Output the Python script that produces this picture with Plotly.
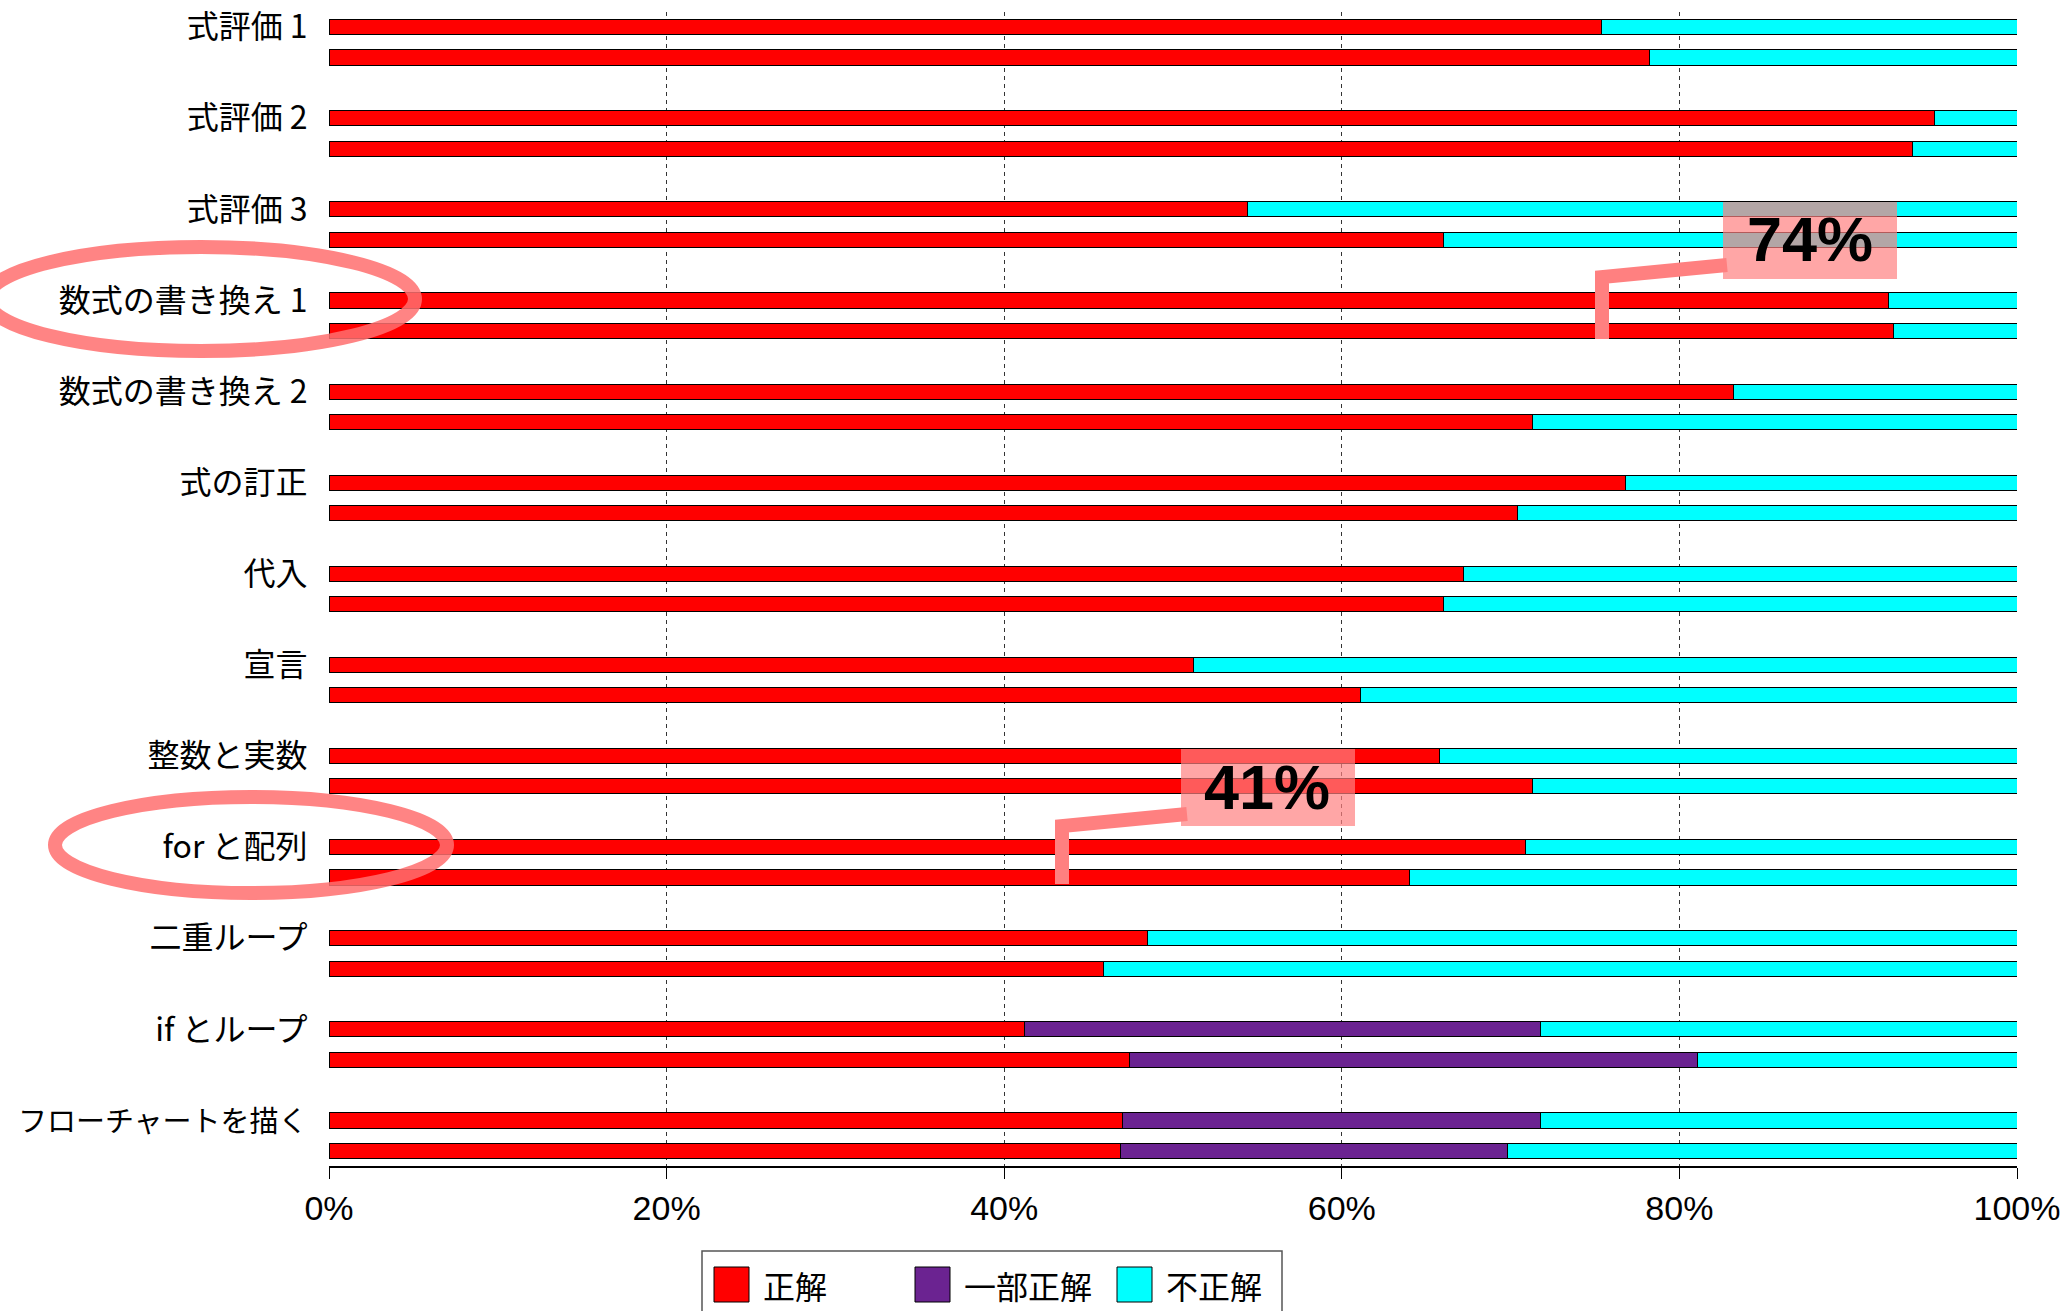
import plotly.graph_objects as go

# ---------------- data ----------------
categories = ["式評価 1", "式評価 2", "式評価 3", "数式の書き換え 1", "数式の書き換え 2",
              "式の訂正", "代入", "宣言", "整数と実数", "for と配列", "二重ループ",
              "if とループ", "フローチャートを描く"]

series_names = ["正解", "一部正解", "不正解"]
series_colors = ["#FF0000", "#6B2391", "#00FFFF"]

# first bar of each pair
correct_a = [75.4, 95.1, 54.4, 92.4, 83.2, 76.8, 67.2, 51.2, 65.8, 70.9, 48.5, 41.2, 47.0]
partial_a = [0, 0, 0, 0, 0, 0, 0, 0, 0, 0, 0, 30.6, 24.8]
wrong_a = [24.6, 4.9, 45.6, 7.6, 16.8, 23.2, 32.8, 48.8, 34.2, 29.1, 51.5, 28.2, 28.2]

# second bar of each pair
correct_b = [78.2, 93.8, 66.0, 92.7, 71.3, 70.4, 66.0, 61.1, 71.3, 64.0, 45.9, 47.4, 46.9]
partial_b = [0, 0, 0, 0, 0, 0, 0, 0, 0, 0, 0, 33.7, 22.9]
wrong_b = [21.8, 6.2, 34.0, 7.3, 28.7, 29.6, 34.0, 38.9, 28.7, 36.0, 54.1, 18.9, 30.2]

x_ticks = [0, 20, 40, 60, 80, 100]
callouts = ["74%", "41%"]

# ---------------- layout geometry ----------------
W, H = 2065, 1311
L, R, T, B = 329, 2017, 12, 1166
LATIN = "Liberation Sans"
CJK = "Noto Sans CJK JP"


def px(x):
    return (x - L) / (R - L)


def py(y):
    return (B - y) / (B - T)


n = len(categories)
rows_a = [3 * i for i in range(n)]
rows_b = [3 * i + 1 for i in range(n)]

fig = go.Figure()

groups = [
    (rows_a, [correct_a, partial_a, wrong_a]),
    (rows_b, [correct_b, partial_b, wrong_b]),
]
for rows, vals_list in groups:
    for name, color, vals in zip(series_names, series_colors, vals_list):
        fig.add_trace(go.Bar(
            x=[v if v else None for v in vals],
            y=rows,
            orientation="h",
            width=0.5,
            name=name,
            marker=dict(color=color, line=dict(color="#000000", width=1)),
            showlegend=False,
            hoverinfo="skip",
        ))

fig.update_layout(
    width=W, height=H,
    margin=dict(l=L, r=W - R, t=T, b=H - B, pad=0, autoexpand=False),
    barmode="stack",
    plot_bgcolor="white",
    paper_bgcolor="white",
    showlegend=False,
)

fig.update_xaxes(
    range=[0, 100],
    tickvals=x_ticks,
    ticktext=[f"{v}%" for v in x_ticks],
    showgrid=True, gridcolor="#333333", gridwidth=1, griddash="4px,4px",
    zeroline=False,
    showline=True, linecolor="#000000", linewidth=2,
    ticks="outside", ticklen=11, tickcolor="#000000", tickwidth=1,
    tickfont=dict(family=LATIN, size=34, color="#000000"),
    automargin=False,
)

# long labels are set a little smaller so they fit in the left margin
tick_labels = [c if len(c) < 10 else f'<span style="font-size:29px">{c}</span>'
               for c in categories]

fig.update_yaxes(
    range=[len(rows_a) * 3 - 1.5, -0.5],
    tickvals=rows_a,
    ticktext=tick_labels,
    showgrid=False, zeroline=False, showline=False,
    ticks="outside", ticklen=14, tickcolor="rgba(0,0,0,0)",
    tickfont=dict(family=CJK, size=32, color="#000000"),
    automargin=False,
)

shapes = []
annotations = []

# ---- highlight ellipses around labels ----
ring = "rgba(255,110,110,0.85)"
for (x0, x1, y0, y1) in [(-13, 415, 247, 351), (55, 447, 797, 893)]:
    shapes.append(dict(type="circle", xref="paper", yref="paper",
                       x0=px(x0), x1=px(x1), y0=py(y1), y1=py(y0),
                       line=dict(color=ring, width=14), layer="above"))

# ---- callout boxes with connectors ----
box_fill = "rgba(255,128,128,0.7)"
callout_geo = [
    ((1723, 1897, 202, 279), (1810, 239), [(1727, 265), (1602, 277), (1602, 339)]),
    ((1181, 1355, 749, 826), (1267, 787), [(1187, 814), (1062, 826), (1062, 884)]),
]
for label, (box, tc, pts) in zip(callouts, callout_geo):
    path = "M " + " L ".join(f"{px(a)},{py(b)}" for a, b in pts)
    shapes.append(dict(type="path", xref="paper", yref="paper", path=path,
                       line=dict(color="#FF8080", width=14), layer="above"))
    shapes.append(dict(type="rect", xref="paper", yref="paper",
                       x0=px(box[0]), x1=px(box[1]), y0=py(box[3]), y1=py(box[2]),
                       fillcolor=box_fill, line=dict(width=0), layer="above"))
    annotations.append(dict(xref="paper", yref="paper", x=px(tc[0]), y=py(tc[1]),
                            text=f"<b>{label}</b>", showarrow=False,
                            xanchor="center", yanchor="middle",
                            font=dict(family=LATIN, size=63, color="#000000")))

# ---- legend (box with swatches) ----
shapes.append(dict(type="rect", xref="paper", yref="paper",
                   x0=px(702), x1=px(1282), y0=py(1330), y1=py(1251),
                   fillcolor="white", line=dict(color="#555555", width=1.5), layer="above"))
legend_swatch_x = [714, 915, 1117]
for name, color, sx in zip(series_names, series_colors, legend_swatch_x):
    shapes.append(dict(type="rect", xref="paper", yref="paper",
                       x0=px(sx), x1=px(sx + 35), y0=py(1302), y1=py(1267),
                       fillcolor=color, line=dict(color="#000000", width=1), layer="above"))
    annotations.append(dict(xref="paper", yref="paper", x=px(sx + 47), y=py(1285),
                            text=name, showarrow=False, xanchor="left", yanchor="middle",
                            font=dict(family=CJK, size=32, color="#000000")))

fig.update_layout(shapes=shapes, annotations=annotations)

fig.write_html("out.html")
